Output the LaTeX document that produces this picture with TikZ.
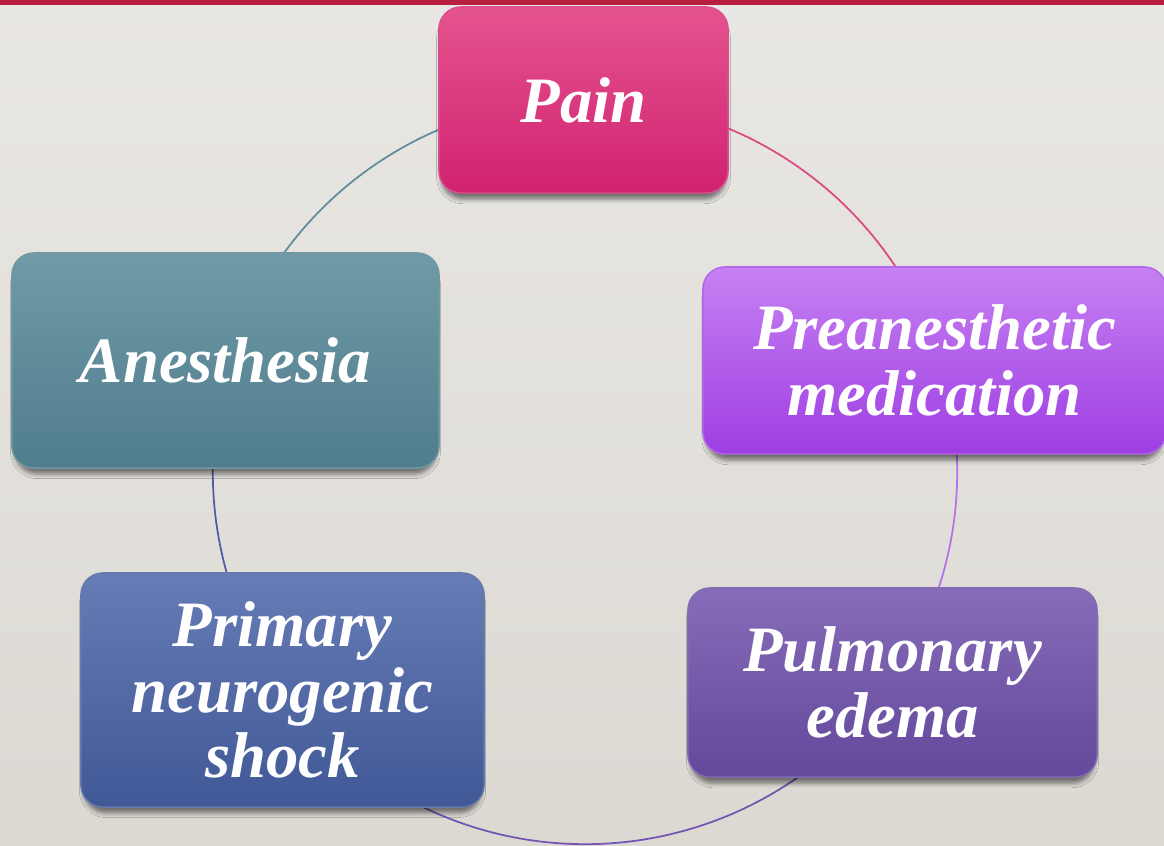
\documentclass[tikz,border=0pt]{standalone}
\usepackage{fontspec}
\setmainfont{Liberation Serif}
\usetikzlibrary{shadows.blur,calc}
\definecolor{bgtop}{RGB}{233,231,227}
\definecolor{bgbot}{RGB}{220,217,211}
\definecolor{topbar}{RGB}{184,30,64}
\definecolor{painT}{RGB}{229,84,143}
\definecolor{painB}{RGB}{208,34,112}
\definecolor{preT}{RGB}{198,128,242}
\definecolor{preB}{RGB}{158,62,226}
\definecolor{pulT}{RGB}{134,108,184}
\definecolor{pulB}{RGB}{99,72,156}
\definecolor{priT}{RGB}{102,124,182}
\definecolor{priB}{RGB}{64,88,150}
\definecolor{aneT}{RGB}{112,154,168}
\definecolor{aneB}{RGB}{80,125,140}
\definecolor{arcA}{RGB}{222,72,132}
\definecolor{arcB}{RGB}{182,112,236}
\definecolor{arcC}{RGB}{116,86,178}
\definecolor{arcD}{RGB}{78,94,160}
\definecolor{arcE}{RGB}{96,140,155}
\tikzset{
  cbox/.style={rounded corners=0.22cm, inner sep=0pt, align=center,
    text=white, font=\fontsize{18.4}{18.7}\selectfont\bfseries\itshape,
    blur shadow={shadow xshift=0pt, shadow yshift=-2.2pt, shadow scale=0.985, shadow blur radius=1.3pt, shadow opacity=50}},
  ring/.style={line width=0.5pt}
}
\begin{document}
\begin{tikzpicture}[x=0.01cm,y=0.01cm]
\shade[top color=bgtop, bottom color=bgbot] (0,0) rectangle (1164,846);
\useasboundingbox (0,0) rectangle (1164,846);
\fill[topbar] (0,841) rectangle (1164,846);
\coordinate (C) at (585,374);
\coordinate (pA) at ($(C)+(90:3.72cm)$);
\coordinate (pB) at ($(C)+(17.6:3.72cm)$);
\coordinate (pC) at ($(C)+(-34.3:3.72cm)$);
\coordinate (pD) at ($(C)+(-144.2:3.72cm)$);
\coordinate (pE) at ($(C)+(162.7:3.72cm)$);
\draw[ring, arcA] (pA) arc[start angle=90, end angle=17.6, radius=3.72cm];
\draw[ring, arcB] (pB) arc[start angle=17.6, end angle=-34.3, radius=3.72cm];
\draw[ring, arcC] (pC) arc[start angle=-34.3, end angle=-144.2, radius=3.72cm];
\draw[ring, arcD] (pD) arc[start angle=-144.2, end angle=-197.3, radius=3.72cm];
\draw[ring, arcE] (pE) arc[start angle=162.7, end angle=90, radius=3.72cm];
\node[cbox, top color=painT, bottom color=painB, draw=painB!80!white, minimum width=2.89cm, minimum height=1.86cm] (pain) at (583.5,746) {Pain};
\node[cbox, top color=preT, bottom color=preB, draw=preB!80!white, minimum width=4.63cm, minimum height=1.87cm] (pre) at (934.5,485.5) {Preanesthetic\\medication};
\node[cbox, top color=pulT, bottom color=pulB, draw=pulB!80!white, minimum width=4.09cm, minimum height=1.89cm] (pul) at (892.5,163.5) {Pulmonary\\edema};
\node[cbox, top color=priT, bottom color=priB, draw=priB!80!white, minimum width=4.03cm, minimum height=2.34cm] (pri) at (282.5,156) {Primary\\neurogenic\\shock};
\node[cbox, top color=aneT, bottom color=aneB, draw=aneB!80!white, minimum width=4.27cm, minimum height=2.15cm] (ane) at (225.5,485.5) {Anesthesia};
\end{tikzpicture}
\end{document}
